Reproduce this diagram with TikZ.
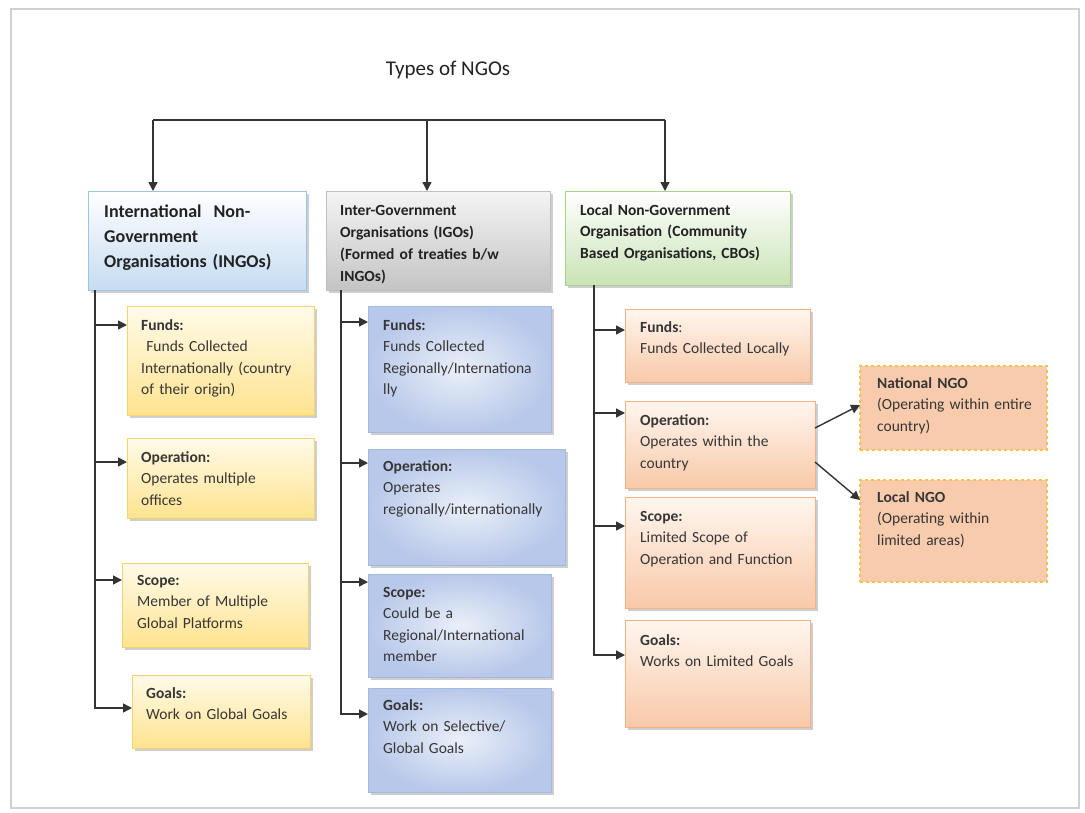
\documentclass[tikz,border=0pt]{standalone}
\usepackage{fontspec}
\setmainfont{Carlito}
\usetikzlibrary{arrows.meta,shadows}

\definecolor{linec}{HTML}{333333}
\definecolor{txtc}{HTML}{363636}
\definecolor{headc}{HTML}{222222}
\definecolor{pageedge}{HTML}{D0D0D0}
% header colours
\definecolor{ingoTop}{HTML}{FFFFFF}
\definecolor{ingoBot}{HTML}{C5DCF1}
\definecolor{ingoEdge}{HTML}{9DC3E6}
\definecolor{igoTop}{HTML}{F4F4F4}
\definecolor{igoBot}{HTML}{C4C4C4}
\definecolor{igoEdge}{HTML}{BFBFBF}
\definecolor{locTop}{HTML}{FFFFFF}
\definecolor{locBot}{HTML}{C9E3B6}
\definecolor{locEdge}{HTML}{A9D18E}
% child colours
\definecolor{yelTop}{HTML}{FFFBEA}
\definecolor{yelBot}{HTML}{FFE38F}
\definecolor{yelEdge}{HTML}{F5D46A}
\definecolor{bluIn}{HTML}{EAEFF8}
\definecolor{bluOut}{HTML}{B8C8EA}
\definecolor{bluEdge}{HTML}{A4B8E0}
\definecolor{pchTop}{HTML}{FFF6EF}
\definecolor{pchBot}{HTML}{F8C9A8}
\definecolor{pchEdge}{HTML}{F4B183}
\definecolor{dashFill}{HTML}{F8CBAD}
\definecolor{dashEdge}{HTML}{F2C14E}

\begin{document}
\begin{tikzpicture}[x=1pt,y=-1pt,
  box/.style={anchor=north west, rectangle, inner sep=0pt, outer sep=0pt, line width=1pt,
    drop shadow={shadow xshift=2.5pt, shadow yshift=-2.5pt, opacity=0.35, fill=black!55}},
  ingobox/.style={box, draw=ingoEdge, top color=ingoTop, bottom color=ingoBot},
  igobox/.style={box, draw=igoEdge, top color=igoTop, bottom color=igoBot},
  locbox/.style={box, draw=locEdge, top color=locTop, bottom color=locBot},
  yelbox/.style={box, draw=yelEdge, top color=yelTop, bottom color=yelBot},
  blubox/.style={box, draw=bluEdge, inner color=bluIn, outer color=bluOut},
  pchbox/.style={box, draw=pchEdge, top color=pchTop, bottom color=pchBot},
  dashbox/.style={anchor=north west, rectangle, inner sep=0pt, outer sep=0pt, line width=1.4pt,
    draw=dashEdge, dashed, fill=dashFill},
  txt/.style={anchor=base west, inner sep=0pt, align=left, text width=240pt, text=txtc,
    font=\fontsize{15.5}{21.6}\selectfont},
  conn/.style={draw=linec, line width=1.4pt},
  arr/.style={conn, -{Triangle[length=9pt,width=9pt]}},
]
\useasboundingbox (0,0) rectangle (1085,812);
\fill[white] (0,0) rectangle (1085,812);
\draw[pageedge, line width=2pt] (11,9) rectangle (1079,808);

% title
\node[font=\fontsize{21}{25}\selectfont, text=headc] (title) at (448,70) {Types of NGOs};

% header boxes
\node[ingobox, minimum width=218pt, minimum height=99pt] (ingo) at (88,191) {};
\node[igobox,  minimum width=224pt, minimum height=99pt] (igo)  at (326,191) {};
\node[locbox,  minimum width=225pt, minimum height=94pt] (loc)  at (565,191) {};

\node[txt, text=headc, font=\bfseries\fontsize{18}{25}\selectfont] (ingo-t) at (104,217)
  {International\ \ Non-\\Government\\Organisations (INGOs)};
\node[txt, text=headc, font=\bfseries\fontsize{15.5}{22}\selectfont] (igo-t) at (340,215)
  {Inter-Government\\Organisations (IGOs)\\(Formed of treaties b/w\\INGOs)};
\node[txt, text=headc, font=\bfseries\fontsize{15.5}{21.6}\selectfont] (loc-t) at (580,215)
  {Local Non-Government\\Organisation (Community\\Based Organisations, CBOs)};

% INGO children
\node[yelbox, minimum width=187pt, minimum height=109pt] (if) at (127,306) {};
\node[yelbox, minimum width=187pt, minimum height=80pt]  (io) at (127,438) {};
\node[yelbox, minimum width=186pt, minimum height=84pt]  (is) at (122,563) {};
\node[yelbox, minimum width=178pt, minimum height=73pt]  (ig) at (132,675) {};
\node[txt] (if-t) at (141,330) {\textbf{Funds:}\\\ Funds Collected\\Internationally (country\\of their origin)};
\node[txt] (io-t) at (141,462) {\textbf{Operation:}\\Operates multiple\\offices};
\node[txt] (is-t) at (137,585) {\textbf{Scope:}\\Member of Multiple\\Global Platforms};
\node[txt] (ig-t) at (146,698) {\textbf{Goals:}\\Work on Global Goals};

% IGO children
\node[blubox, minimum width=183pt, minimum height=126pt] (gf) at (368,306) {};
\node[blubox, minimum width=197pt, minimum height=116pt] (go) at (368,449) {};
\node[blubox, minimum width=183pt, minimum height=103pt] (gs) at (368,574) {};
\node[blubox, minimum width=183pt, minimum height=104pt] (gg) at (368,688) {};
\node[txt] (gf-t) at (383,330) {\textbf{Funds:}\\Funds Collected\\Regionally/Internationa\\lly};
\node[txt] (go-t) at (383,471) {\textbf{Operation:}\\Operates\\regionally/internationally};
\node[txt] (gs-t) at (383,597) {\textbf{Scope:}\\Could be a\\Regional/International\\member};
\node[txt] (gg-t) at (383,710) {\textbf{Goals:}\\Work on Selective/\\Global Goals};

% local children
\node[pchbox, minimum width=185pt, minimum height=73pt]  (lf) at (625,309) {};
\node[pchbox, minimum width=190pt, minimum height=87pt]  (lo) at (625,401) {};
\node[pchbox, minimum width=190pt, minimum height=111pt] (ls) at (625,497) {};
\node[pchbox, minimum width=185pt, minimum height=107pt] (lg) at (625,620) {};
\node[txt] (lf-t) at (640,332) {\textbf{Funds}:\\Funds Collected Locally};
\node[txt] (lo-t) at (640,425) {\textbf{Operation:}\\Operates within the\\country};
\node[txt] (ls-t) at (640,521) {\textbf{Scope:}\\Limited Scope of\\Operation and Function};
\node[txt] (lg-t) at (640,645) {\textbf{Goals:}\\Works on Limited Goals};

% sub-types of local NGOs
\node[dashbox, minimum width=187pt, minimum height=84pt]  (nat) at (860,366) {};
\node[dashbox, minimum width=187pt, minimum height=102pt] (lcl) at (860,480) {};
\node[txt] (nat-t) at (877,388) {\textbf{National NGO}\\(Operating within entire\\country)};
\node[txt] (lcl-t) at (877,502) {\textbf{Local NGO}\\(Operating within\\limited areas)};

% top distribution line
\coordinate (top) at (427,120);
\coordinate (ingo-in) at ([xshift=65pt]ingo.north west);
\coordinate (igo-in)  at ([xshift=101pt]igo.north west);
\coordinate (loc-in)  at ([xshift=100pt]loc.north west);
\draw[conn] (ingo-in |- top) -- (loc-in |- top);
\draw[arr] (ingo-in |- top) -- (ingo-in);
\draw[arr] (top) -- (igo-in);
\draw[arr] (loc-in |- top) -- (loc-in);

% INGO trunk
\coordinate (ingo-tr) at ([xshift=7pt]ingo.south west);
\coordinate (if-a) at ([yshift=-19pt]if.north west);
\coordinate (io-a) at ([yshift=-24pt]io.north west);
\coordinate (is-a) at ([yshift=-17pt]is.north west);
\coordinate (ig-a) at ([yshift=-33pt]ig.north west);
\draw[arr] (ingo-tr) |- (ig-a);
\draw[arr] (ingo-tr |- if-a) -- (if-a);
\draw[arr] (ingo-tr |- io-a) -- (io-a);
\draw[arr] (ingo-tr |- is-a) -- (is-a);

% IGO trunk
\coordinate (igo-tr) at ([xshift=15pt]igo.south west);
\coordinate (gf-a) at ([yshift=-16pt]gf.north west);
\coordinate (go-a) at ([yshift=-14pt]go.north west);
\coordinate (gs-a) at ([yshift=-8pt]gs.north west);
\coordinate (gg-a) at ([yshift=-26pt]gg.north west);
\draw[arr] (igo-tr) |- (gg-a);
\draw[arr] (igo-tr |- gf-a) -- (gf-a);
\draw[arr] (igo-tr |- go-a) -- (go-a);
\draw[arr] (igo-tr |- gs-a) -- (gs-a);

% local trunk
\coordinate (loc-tr) at ([xshift=29pt]loc.south west);
\coordinate (lf-a) at ([yshift=-21pt]lf.north west);
\coordinate (lo-a) at ([yshift=-12pt]lo.north west);
\coordinate (ls-a) at ([yshift=-29pt]ls.north west);
\coordinate (lg-a) at ([yshift=-35pt]lg.north west);
\draw[arr] (loc-tr) |- (lg-a);
\draw[arr] (loc-tr |- lf-a) -- (lf-a);
\draw[arr] (loc-tr |- lo-a) -- (lo-a);
\draw[arr] (loc-tr |- ls-a) -- (ls-a);

% operation split
\coordinate (lo-r1) at ([yshift=-27pt]lo.north east);
\coordinate (lo-r2) at ([yshift=-61pt]lo.north east);
\coordinate (nat-a) at ([yshift=-39pt]nat.north west);
\coordinate (lcl-a) at ([yshift=-20pt]lcl.north west);
\draw[arr] (lo-r1) -- (nat-a);
\draw[arr] (lo-r2) -- (lcl-a);
\end{tikzpicture}
\end{document}
